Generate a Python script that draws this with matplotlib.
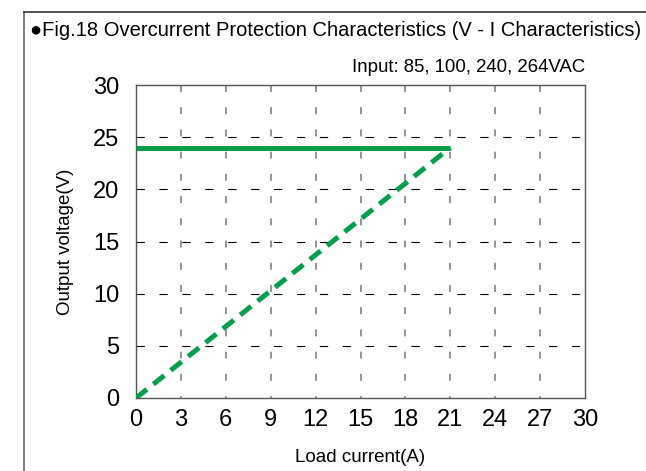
import matplotlib
matplotlib.use('Agg')
import matplotlib.pyplot as plt

# V-I curve of the overcurrent protection
limit_current = [0, 21]
limit_voltage = [24, 24]
foldback_current = [0, 21]
foldback_voltage = [0, 24]

x_ticks = [0, 3, 6, 9, 12, 15, 18, 21, 24, 27, 30]
y_ticks = [0, 5, 10, 15, 20, 25, 30]

green = '#00a04a'

plt.rcParams['font.family'] = ['Liberation Sans', 'DejaVu Sans']
plt.rcParams['lines.scale_dashes'] = False

fig = plt.figure(figsize=(6.46, 4.71), dpi=100)
ax = fig.add_axes([136/646, 73/471, 449/646, 313/471])

# grid: grey vertical dashes, thin black horizontal dashes
for x in x_ticks[1:-1]:
    ax.plot([x, x], [30, 0], color='#808080', lw=1.2, dashes=(5, 11), zorder=1)
for y in y_ticks[1:-1]:
    ax.plot([0, 30], [y, y], color='black', lw=0.8, dashes=(6, 10.5), zorder=1)

ax.plot(limit_current, limit_voltage, color=green, lw=3.6, solid_capstyle='butt', zorder=3)
ax.plot(foldback_current, foldback_voltage, color=green, lw=3.6, dashes=(10, 6), zorder=3)

ax.set_xlim(0, 30)
ax.set_ylim(0, 30)
ax.set_xticks(x_ticks)
ax.set_yticks(y_ticks)
ax.tick_params(length=0, labelsize=17, colors='black')
ax.tick_params(axis='y', pad=12)
ax.tick_params(axis='x', pad=8)
for s in ax.spines.values():
    s.set_color('#555555')
    s.set_linewidth(1.0)

ax.set_xlabel('Load current(A)', fontsize=13.5, labelpad=13)
ax.set_ylabel('Output voltage(V)', fontsize=13.5, labelpad=14)
ax.text(1.0, 1.03, 'Input: 85, 100, 240, 264VAC', transform=ax.transAxes,
        ha='right', va='bottom', fontsize=13.4)

fig.text(30/646, 1 - 36/471, '\u25cfFig.18 Overcurrent Protection Characteristics (V - I Characteristics)',
         fontsize=14.5, va='baseline', ha='left')

# outer frame
fig.add_artist(plt.Line2D([24/646, 24/646], [0, 1 - 12/471], color='#666666', lw=1.2))
fig.add_artist(plt.Line2D([24/646, 1], [1 - 12/471, 1 - 12/471], color='#333333', lw=1.2))

fig.savefig('out.png', dpi=100)
